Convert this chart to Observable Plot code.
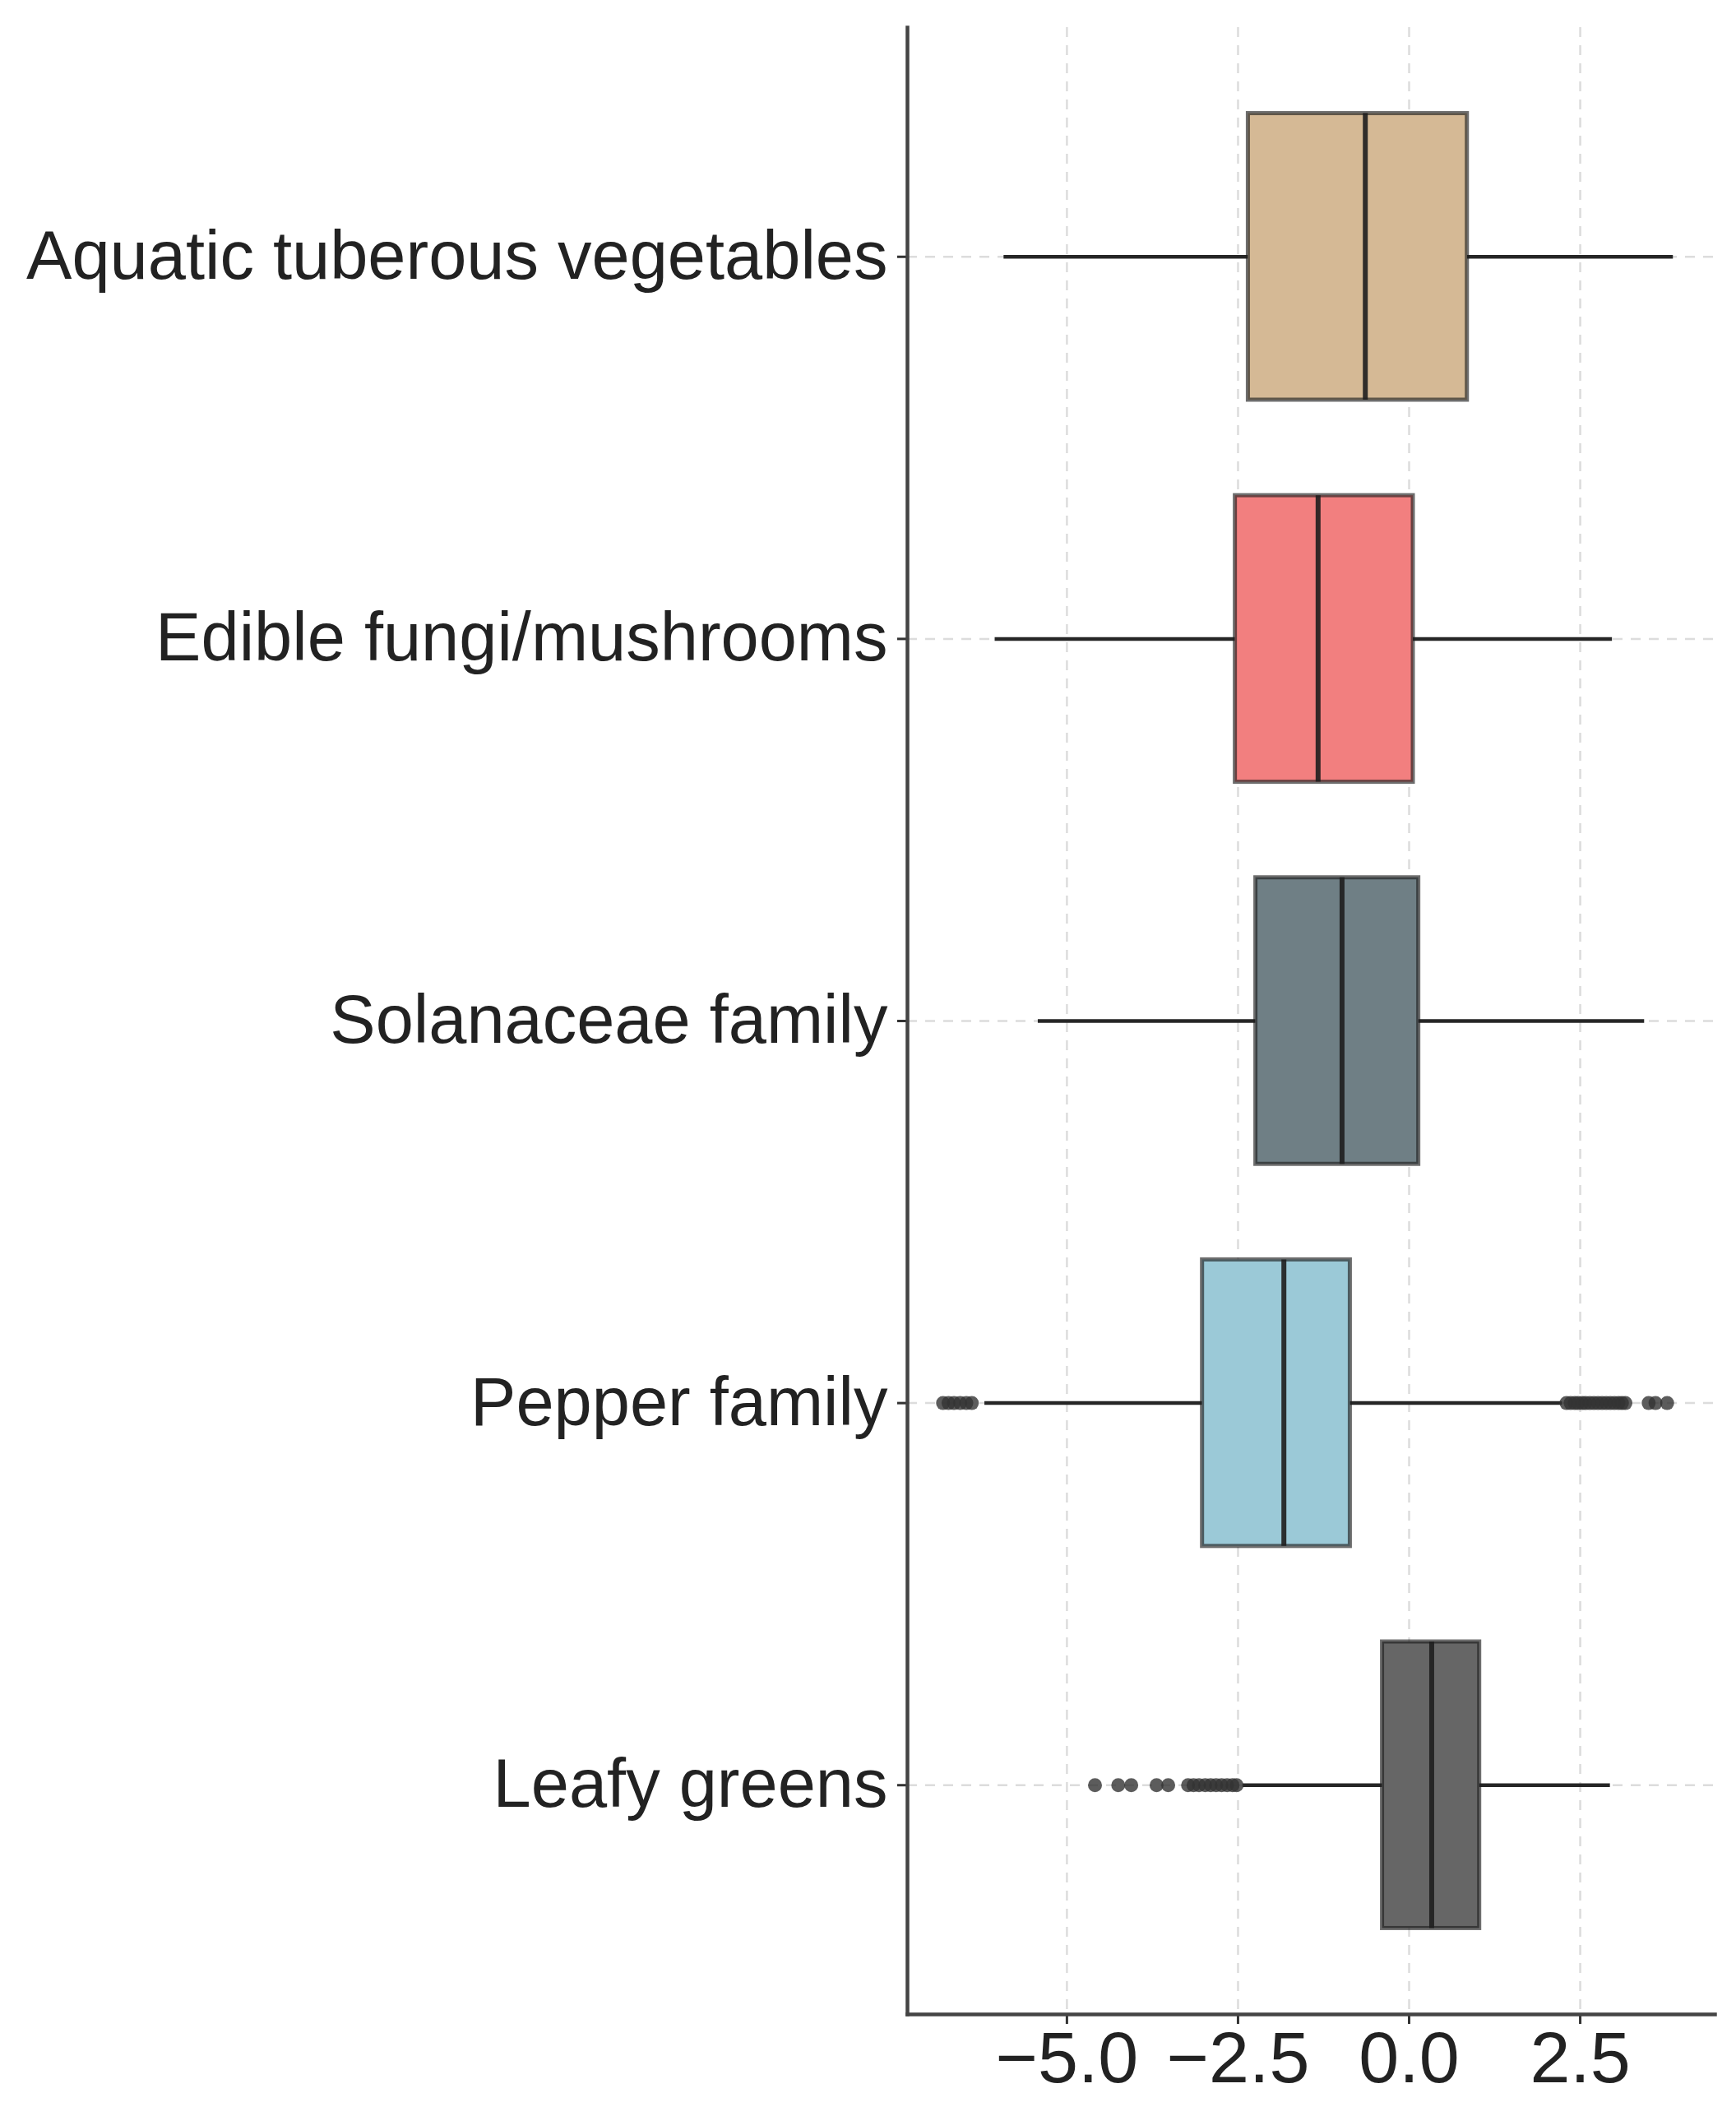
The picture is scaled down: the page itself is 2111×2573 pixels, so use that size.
<!DOCTYPE html>
<html>
<head>
<meta charset="utf-8">
<script src="https://cdn.jsdelivr.net/npm/d3@7"></script>
<script src="https://cdn.jsdelivr.net/npm/@observablehq/plot@0.6"></script>
<style>
  html, body { margin: 0; padding: 0; background: #ffffff; }
  #chart { width: 2111px; height: 2573px; }
</style>
</head>
<body>
<div id="chart"></div>
<script>
// Categories (top to bottom)
const categories = ["Aquatic tuberous vegetables", "Edible fungi/mushrooms", "Solanaceae family", "Pepper family", "Leafy greens"];
// Box statistics
const q1Values     = [-2.35, -2.54, -2.24, -3.02, -0.39];
const medianValues = [-0.64, -1.33, -0.98, -1.83,  0.33];
const q3Values     = [ 0.85,  0.06,  0.14, -0.86,  1.03];
const lowerWhisker = [-5.92, -6.05, -5.42, -6.20, -2.43];
const upperWhisker = [ 3.86,  2.97,  3.44,  2.24,  2.94];
const fillColors   = ["#D5B995", "#F27F7F", "#6F7F85", "#9BC9D7", "#666666"];
// Outliers
const pepperOutliers = [-6.81, -6.73, -6.65, -6.56, -6.47, -6.39,
  2.30, 2.36, 2.42, 2.47, 2.53, 2.58, 2.64, 2.70, 2.76, 2.82, 2.88, 2.94, 3.00, 3.06, 3.11, 3.16,
  3.50, 3.60, 3.77];
const leafyOutliers = [-4.59, -4.25, -4.06, -3.69, -3.52,
  -3.23, -3.15, -3.07, -2.98, -2.90, -2.82, -2.74, -2.66, -2.58, -2.52];
// Axis ticks
const xTicks = [-5, -2.5, 0, 2.5];

const boxes = categories.map((c, i) => ({
  cat: c, q1: q1Values[i], med: medianValues[i], q3: q3Values[i],
  lo: lowerWhisker[i], hi: upperWhisker[i], fill: fillColors[i]
}));
const outliers = [
  ...pepperOutliers.map(v => ({cat: "Pepper family", v})),
  ...leafyOutliers.map(v => ({cat: "Leafy greens", v}))
];

const FONT = "'Liberation Sans', Arial, sans-serif";
const GRID = {stroke: "#dcdcdc", strokeOpacity: 1, strokeWidth: 2.5, strokeDasharray: "12,10"};

const plot = Plot.plot({
  width: 2111,
  height: 2573,
  marginLeft: 1103,
  marginRight: 26,
  marginTop: 33,
  marginBottom: 124,
  style: {fontFamily: FONT, background: "#ffffff"},
  x: {domain: [-7.33, 4.47], label: null},
  y: {type: "band", domain: categories, paddingInner: 0.25, paddingOuter: 0.225, round: false, label: null},
  marks: [
    Plot.gridX({ticks: xTicks, ...GRID}),
    Plot.gridY({...GRID}),
    // whiskers
    Plot.ruleY(boxes, {y: "cat", x1: "lo", x2: "q1", stroke: "#262626", strokeWidth: 4.5}),
    Plot.ruleY(boxes, {y: "cat", x1: "q3", x2: "hi", stroke: "#262626", strokeWidth: 4.5}),
    // boxes
    Plot.barX(boxes, {y: "cat", x1: "q1", x2: "q3", fill: "fill", stroke: "#1e1e1e", strokeOpacity: 0.65, strokeWidth: 5}),
    // medians
    Plot.tickX(boxes, {y: "cat", x: "med", stroke: "#1e1e1e", strokeOpacity: 0.9, strokeWidth: 6}),
    // outliers
    Plot.dot(outliers, {y: "cat", x: "v", r: 8.5, fill: "#333", fillOpacity: 0.8, stroke: null}),
    // axes
    Plot.axisX({ticks: xTicks, tickFormat: d3.format(".1f"), tickSize: 12, tickPadding: 8, fontSize: 88, color: "#222", stroke: "#333", strokeWidth: 3, label: null}),
    Plot.axisY({tickSize: 12, tickPadding: 12, fontSize: 83, color: "#222", stroke: "#333", strokeWidth: 3, label: null}),
    Plot.frame({anchor: "left", stroke: "#444", strokeWidth: 4.5}),
    Plot.frame({anchor: "bottom", stroke: "#444", strokeWidth: 4.5})
  ]
});
document.getElementById("chart").appendChild(plot);
</script>
</body>
</html>
